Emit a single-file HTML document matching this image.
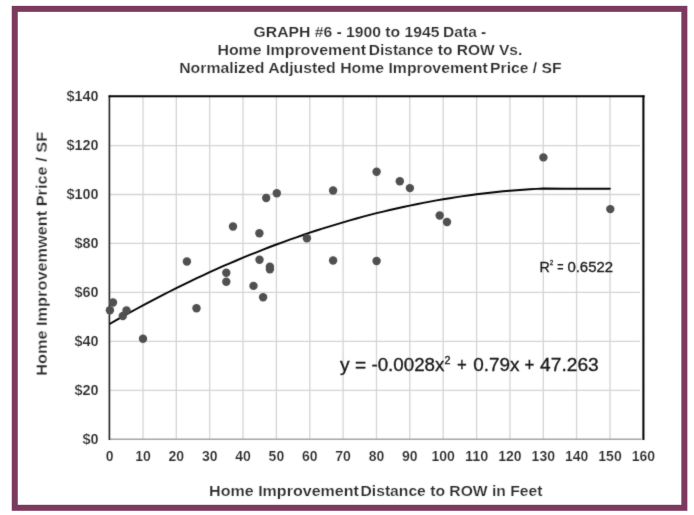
<!DOCTYPE html>
<html><head><meta charset="utf-8"><title>Graph 6</title>
<style>
html,body{margin:0;padding:0;background:#fff;}
body{width:694px;height:515px;overflow:hidden;font-family:"Liberation Sans",sans-serif;}
svg{display:block;}
text{font-family:"Liberation Sans",sans-serif;white-space:pre;}
.b{font-weight:bold;fill:#282828;stroke:#fff;stroke-width:0.2px;}
.n{fill:#161616;stroke:#161616;stroke-width:0.3px;}
</style></head><body>
<svg width="694" height="515" viewBox="0 0 694 515">
<defs><filter id="soft" color-interpolation-filters="sRGB" x="-2%" y="-2%" width="104%" height="104%"><feConvolveMatrix order="3" kernelMatrix="0.3 1.2 0.3 1.2 10 1.2 0.3 1.2 0.3" divisor="16" edgeMode="duplicate" preserveAlpha="false"/></filter></defs>
<rect x="0" y="0" width="694" height="515" fill="#ffffff"/>
<rect x="14.75" y="8.85" width="669.6" height="498.95" fill="#fff" stroke="#7c3a5e" stroke-width="6"/>
<g filter="url(#soft)">
<g stroke="#d4d4d4" stroke-width="1.3"><line x1="143.0" y1="97" x2="143.0" y2="439" /><line x1="176.3" y1="97" x2="176.3" y2="439" /><line x1="209.7" y1="97" x2="209.7" y2="439" /><line x1="243.0" y1="97" x2="243.0" y2="439" /><line x1="276.4" y1="97" x2="276.4" y2="439" /><line x1="309.8" y1="97" x2="309.8" y2="439" /><line x1="343.1" y1="97" x2="343.1" y2="439" /><line x1="376.5" y1="97" x2="376.5" y2="439" /><line x1="409.8" y1="97" x2="409.8" y2="439" /><line x1="443.2" y1="97" x2="443.2" y2="439" /><line x1="476.6" y1="97" x2="476.6" y2="439" /><line x1="509.9" y1="97" x2="509.9" y2="439" /><line x1="543.3" y1="97" x2="543.3" y2="439" /><line x1="576.6" y1="97" x2="576.6" y2="439" /><line x1="610.0" y1="97" x2="610.0" y2="439" /><line x1="110" y1="390.3" x2="640" y2="390.3" /><line x1="110" y1="341.3" x2="640" y2="341.3" /><line x1="110" y1="292.4" x2="640" y2="292.4" /><line x1="110" y1="243.4" x2="640" y2="243.4" /><line x1="110" y1="194.5" x2="640" y2="194.5" /><line x1="110" y1="145.6" x2="640" y2="145.6" /></g>
<line x1="109" y1="439.3" x2="641.5" y2="439.3" stroke="#a4a4a4" stroke-width="1.5"/>
<line x1="109.4" y1="95.4" x2="109.4" y2="440" stroke="#222" stroke-width="1.6"/>
<line x1="108.6" y1="96.3" x2="644.6" y2="96.3" stroke="#000" stroke-width="2.05"/>
<line x1="643.4" y1="95.4" x2="643.4" y2="440" stroke="#000" stroke-width="2.05"/>
<path d="M109.6,324.0 L116.3,320.2 L122.9,316.4 L129.6,312.7 L136.3,309.0 L143.0,305.4 L149.6,301.8 L156.3,298.3 L163.0,294.9 L169.6,291.5 L176.3,288.1 L183.0,284.8 L189.7,281.6 L196.3,278.4 L203.0,275.3 L209.7,272.2 L216.4,269.2 L223.0,266.2 L229.7,263.3 L236.4,260.5 L243.0,257.7 L249.7,254.9 L256.4,252.3 L263.1,249.6 L269.7,247.0 L276.4,244.5 L283.1,242.1 L289.7,239.6 L296.4,237.3 L303.1,235.0 L309.8,232.7 L316.4,230.5 L323.1,228.4 L329.8,226.3 L336.4,224.3 L343.1,222.3 L349.8,220.4 L356.5,218.5 L363.1,216.7 L369.8,214.9 L376.5,213.2 L383.2,211.6 L389.8,210.0 L396.5,208.5 L403.2,207.0 L409.8,205.6 L416.5,204.2 L423.2,202.9 L429.9,201.6 L436.5,200.4 L443.2,199.3 L449.9,198.2 L456.5,197.1 L463.2,196.1 L469.9,195.2 L476.6,194.3 L483.2,193.5 L489.9,192.7 L496.6,192.0 L503.2,191.3 L509.9,190.7 L516.6,190.2 L523.3,189.7 L529.9,189.2 L536.6,188.9 L543.3,188.5 L563.3,188.8 L610.0,188.8 L610.3,189.4" fill="none" stroke="#000" stroke-width="1.9" stroke-linejoin="round"/>
<g fill="#505050"><circle cx="109.9" cy="310.3" r="4.2"/><circle cx="113.0" cy="302.5" r="4.2"/><circle cx="122.8" cy="316.0" r="4.2"/><circle cx="126.5" cy="310.5" r="4.2"/><circle cx="143.0" cy="338.8" r="4.2"/><circle cx="186.9" cy="261.5" r="4.2"/><circle cx="196.5" cy="308.2" r="4.2"/><circle cx="226.3" cy="272.7" r="4.2"/><circle cx="226.3" cy="281.8" r="4.2"/><circle cx="253.5" cy="285.9" r="4.2"/><circle cx="259.5" cy="259.7" r="4.2"/><circle cx="263.1" cy="297.3" r="4.2"/><circle cx="269.9" cy="266.7" r="4.2"/><circle cx="269.9" cy="269.3" r="4.2"/><circle cx="233.0" cy="226.5" r="4.2"/><circle cx="259.4" cy="233.2" r="4.2"/><circle cx="266.2" cy="198.0" r="4.2"/><circle cx="276.8" cy="193.3" r="4.2"/><circle cx="306.9" cy="238.2" r="4.2"/><circle cx="333.1" cy="190.5" r="4.2"/><circle cx="333.1" cy="260.5" r="4.2"/><circle cx="376.6" cy="171.8" r="4.2"/><circle cx="376.6" cy="261.0" r="4.2"/><circle cx="399.8" cy="181.2" r="4.2"/><circle cx="409.9" cy="188.1" r="4.2"/><circle cx="439.7" cy="215.5" r="4.2"/><circle cx="447.0" cy="222.0" r="4.2"/><circle cx="543.4" cy="157.4" r="4.2"/><circle cx="610.3" cy="209.1" r="4.2"/></g>
<text class="b" x="82.4" y="443.8" font-size="14.8" textLength="16.1" lengthAdjust="spacingAndGlyphs">$0</text>
<text class="b" x="74.4" y="394.9" font-size="14.8" textLength="24.1" lengthAdjust="spacingAndGlyphs">$20</text>
<text class="b" x="74.4" y="345.9" font-size="14.8" textLength="24.1" lengthAdjust="spacingAndGlyphs">$40</text>
<text class="b" x="74.4" y="297.0" font-size="14.8" textLength="24.1" lengthAdjust="spacingAndGlyphs">$60</text>
<text class="b" x="74.4" y="248.0" font-size="14.8" textLength="24.1" lengthAdjust="spacingAndGlyphs">$80</text>
<text class="b" x="66.4" y="199.1" font-size="14.8" textLength="32.1" lengthAdjust="spacingAndGlyphs">$100</text>
<text class="b" x="66.4" y="150.2" font-size="14.8" textLength="32.1" lengthAdjust="spacingAndGlyphs">$120</text>
<text class="b" x="66.4" y="101.2" font-size="14.8" textLength="32.1" lengthAdjust="spacingAndGlyphs">$140</text>
<text class="b" x="105.7" y="460.6" font-size="14.8" textLength="7.8" lengthAdjust="spacingAndGlyphs">0</text>
<text class="b" x="135.2" y="460.6" font-size="14.8" textLength="15.6" lengthAdjust="spacingAndGlyphs">10</text>
<text class="b" x="168.5" y="460.6" font-size="14.8" textLength="15.6" lengthAdjust="spacingAndGlyphs">20</text>
<text class="b" x="201.9" y="460.6" font-size="14.8" textLength="15.6" lengthAdjust="spacingAndGlyphs">30</text>
<text class="b" x="235.2" y="460.6" font-size="14.8" textLength="15.6" lengthAdjust="spacingAndGlyphs">40</text>
<text class="b" x="268.6" y="460.6" font-size="14.8" textLength="15.6" lengthAdjust="spacingAndGlyphs">50</text>
<text class="b" x="302.0" y="460.6" font-size="14.8" textLength="15.6" lengthAdjust="spacingAndGlyphs">60</text>
<text class="b" x="335.3" y="460.6" font-size="14.8" textLength="15.6" lengthAdjust="spacingAndGlyphs">70</text>
<text class="b" x="368.7" y="460.6" font-size="14.8" textLength="15.6" lengthAdjust="spacingAndGlyphs">80</text>
<text class="b" x="402.0" y="460.6" font-size="14.8" textLength="15.6" lengthAdjust="spacingAndGlyphs">90</text>
<text class="b" x="431.5" y="460.6" font-size="14.8" textLength="23.4" lengthAdjust="spacingAndGlyphs">100</text>
<text class="b" x="464.9" y="460.6" font-size="14.8" textLength="23.4" lengthAdjust="spacingAndGlyphs">110</text>
<text class="b" x="498.2" y="460.6" font-size="14.8" textLength="23.4" lengthAdjust="spacingAndGlyphs">120</text>
<text class="b" x="531.6" y="460.6" font-size="14.8" textLength="23.4" lengthAdjust="spacingAndGlyphs">130</text>
<text class="b" x="564.9" y="460.6" font-size="14.8" textLength="23.4" lengthAdjust="spacingAndGlyphs">140</text>
<text class="b" x="598.3" y="460.6" font-size="14.8" textLength="23.4" lengthAdjust="spacingAndGlyphs">150</text>
<text class="b" x="631.7" y="460.6" font-size="14.8" textLength="23.4" lengthAdjust="spacingAndGlyphs">160</text>
<text class="b" x="253.6" y="37.0" font-size="15" textLength="185.9" lengthAdjust="spacingAndGlyphs">GRAPH #6 - 1900 to 1945</text>
<text class="b" x="443.1" y="37.0" font-size="15" textLength="43.2" lengthAdjust="spacingAndGlyphs">Data -</text>
<text class="b" x="217.4" y="55.0" font-size="15" textLength="148.7" lengthAdjust="spacingAndGlyphs">Home Improvement</text>
<text class="b" x="368.8" y="55.0" font-size="15" textLength="153.4" lengthAdjust="spacingAndGlyphs">Distance to ROW Vs.</text>
<text class="b" x="179.2" y="72.6" font-size="15" textLength="308.5" lengthAdjust="spacingAndGlyphs">Normalized Adjusted Home Improvement</text>
<text class="b" x="490.1" y="72.6" font-size="15" textLength="71.5" lengthAdjust="spacingAndGlyphs">Price / SF</text>
<text class="b" x="209.1" y="495.7" font-size="15.5" textLength="149.8" lengthAdjust="spacingAndGlyphs">Home Improvement</text>
<text class="b" x="360.5" y="495.7" font-size="15.5" textLength="182.0" lengthAdjust="spacingAndGlyphs">Distance to ROW in Feet</text>
<g transform="translate(46.7,375) rotate(-90)"><text class="b" x="-0.8" y="0.0" font-size="15.3" textLength="243.9" lengthAdjust="spacingAndGlyphs">Home Improvemwent Price / SF</text>
</g>
<text class="n" x="539.6" y="272.2" font-size="15.2" textLength="10.3" lengthAdjust="spacingAndGlyphs">R</text>
<text class="n" x="549.7" y="264.6" font-size="6.5" textLength="3.5" lengthAdjust="spacingAndGlyphs">2</text>
<text class="n" x="557.3" y="272.2" font-size="15.2" textLength="6.3" lengthAdjust="spacingAndGlyphs">=</text>
<text class="n" x="567.4" y="272.2" font-size="15.2" textLength="45.7" lengthAdjust="spacingAndGlyphs">0.6522</text>
<text class="n" x="340.1" y="370.9" font-size="18" textLength="26.1" lengthAdjust="spacingAndGlyphs">y =</text>
<text class="n" x="371.4" y="370.9" font-size="18" textLength="73.0" lengthAdjust="spacingAndGlyphs">-0.0028x</text>
<text class="n" x="444.5" y="363.5" font-size="10.5" textLength="6.0" lengthAdjust="spacingAndGlyphs">2</text>
<text class="n" x="457.1" y="370.9" font-size="18" textLength="9.8" lengthAdjust="spacingAndGlyphs">+</text>
<text class="n" x="473.2" y="370.9" font-size="18" textLength="46.2" lengthAdjust="spacingAndGlyphs">0.79x</text>
<text class="n" x="524.6" y="370.9" font-size="18" textLength="9.9" lengthAdjust="spacingAndGlyphs">+</text>
<text class="n" x="540.1" y="370.9" font-size="18" textLength="58.6" lengthAdjust="spacingAndGlyphs">47.263</text>
</g>
</svg>
</body></html>
